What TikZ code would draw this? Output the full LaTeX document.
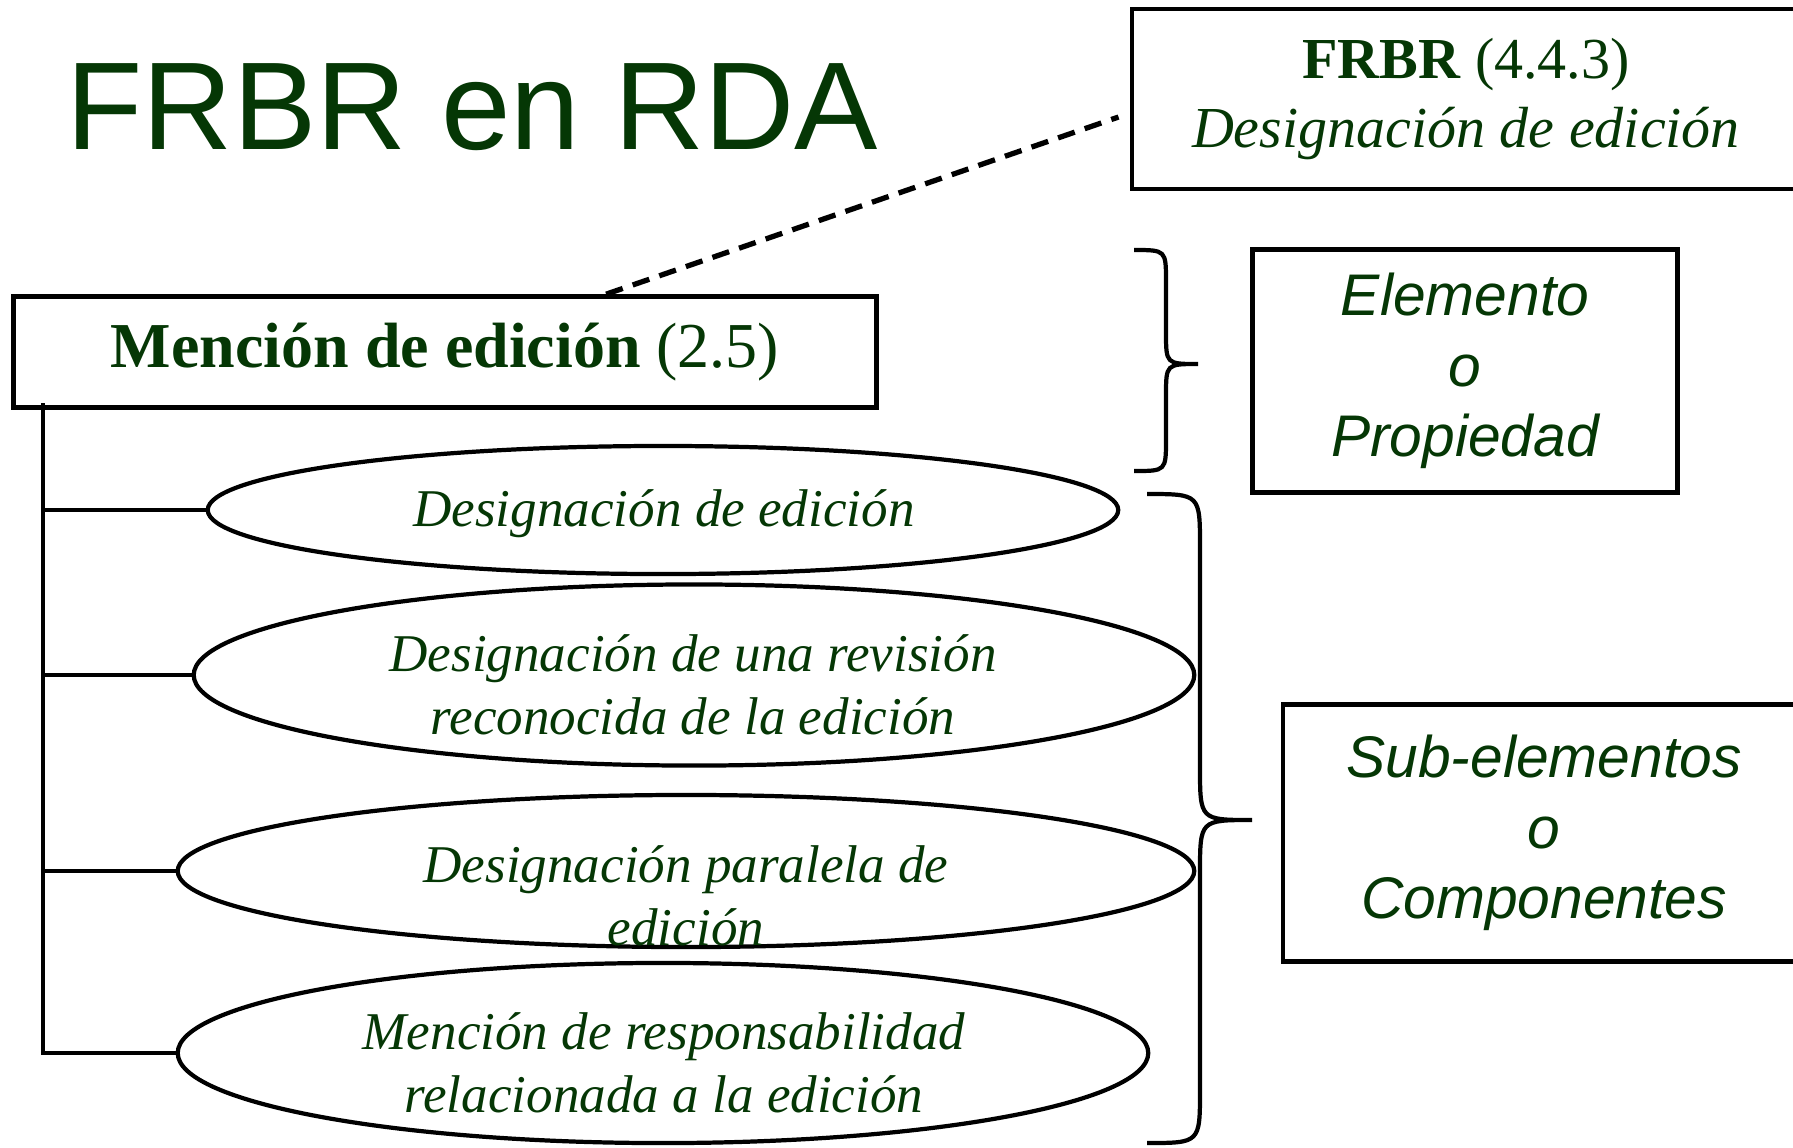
\documentclass[tikz,border=0pt]{standalone}
\usepackage{fontspec}
\setmainfont{Liberation Serif}
\newfontfamily\arial{Liberation Sans}
\usetikzlibrary{shapes.geometric}
\definecolor{verde}{RGB}{5,55,5}

\begin{document}
\begin{tikzpicture}[-,x=0.01cm,y=-0.01cm]
              \tikzstyle{every node}=[text=verde,inner sep=0pt];
              \tikzstyle{caja}=[draw,line width=1.3pt,shape=rectangle,align=center];
              \tikzstyle{elipse}=[draw,line width=1.2pt,shape=ellipse];
              \tikzstyle{etiqueta}=[align=center,font=\fontsize{15.1}{17.8}\selectfont\itshape];
              \tikzstyle{nota}=[caja,font=\arial\fontsize{16.7}{20}\selectfont\itshape];
                \useasboundingbox (0,0) rectangle (1793,1147);

                \path (66,149) node[anchor=base west,font=\arial\fontsize{35.5}{40}\selectfont] (titulo) {FRBR en RDA};

                \path (1466,99) node[caja,minimum width=6.68cm,minimum height=1.80cm,font=\fontsize{16.5}{19.6}\selectfont] (frbr) {\textbf{FRBR} (4.4.3)\\\textit{Designación de edición}};
                \path (445,352) node[caja,minimum width=8.62cm,minimum height=1.11cm,font=\fontsize{18.2}{21}\selectfont] (mencion) {\textbf{Mención de edición} (2.5)};
                \path (1465,371) node[nota,minimum width=4.25cm,minimum height=2.43cm] (elemento) {Elemento\\o\\Propiedad};
                \path (1544,833) node[nota,minimum width=5.22cm,minimum height=2.57cm] (sub) {Sub-elementos\\o\\Componentes};

                \path (663,510)  node[elipse,minimum width=9.10cm,minimum height=1.28cm] (e1) {};
                \path (694,675)  node[elipse,minimum width=10.00cm,minimum height=1.81cm] (e2) {};
                \path (686,871)  node[elipse,minimum width=10.16cm,minimum height=1.52cm] (e3) {};
                \path (663,1053) node[elipse,minimum width=9.70cm,minimum height=1.80cm] (e4) {};

                \path (664,514)  node[etiqueta] (t1) {Designación de edición};
                \path (693,685)  node[etiqueta] (t2) {Designación de una revisión\\reconocida de la edición};
                \path (686,896)  node[etiqueta] (t3) {Designación paralela de\\edición};
                \path (664,1063) node[etiqueta] (t4) {Mención de responsabilidad\\relacionada a la edición};

                \path[-,draw,line width=1.5pt,dash pattern=on 5pt off 3pt] ([xshift=1.61cm]mencion.north) -- ([xshift=-0.11cm,yshift=-0.18cm]frbr.west);

                \coordinate (tronco) at (43,403);
                \path[-,draw,line width=1.2pt] (tronco) |- (e4.west);
                \path[-,draw,line width=1.2pt] (e1.west) -- (e1.west -| tronco);
                \path[-,draw,line width=1.2pt] (e2.west) -- (e2.west -| tronco);
                \path[-,draw,line width=1.2pt] (e3.west) -- (e3.west -| tronco);

                \path[-,draw,line width=1.2pt] (1134,250) .. controls (1166,250) .. (1166,282) -- (1166,332)
                    .. controls (1166,364) .. (1198,364) .. controls (1166,364) .. (1166,396) -- (1166,439)
                    .. controls (1166,471) .. (1134,471);
                \path[-,draw,line width=1.2pt] (1147,494) .. controls (1200,494) .. (1200,547) -- (1200,767)
                    .. controls (1200,820) .. (1252,820) .. controls (1200,820) .. (1200,873) -- (1200,1090)
                    .. controls (1200,1143) .. (1147,1143);
            \end{tikzpicture}
\end{document}
